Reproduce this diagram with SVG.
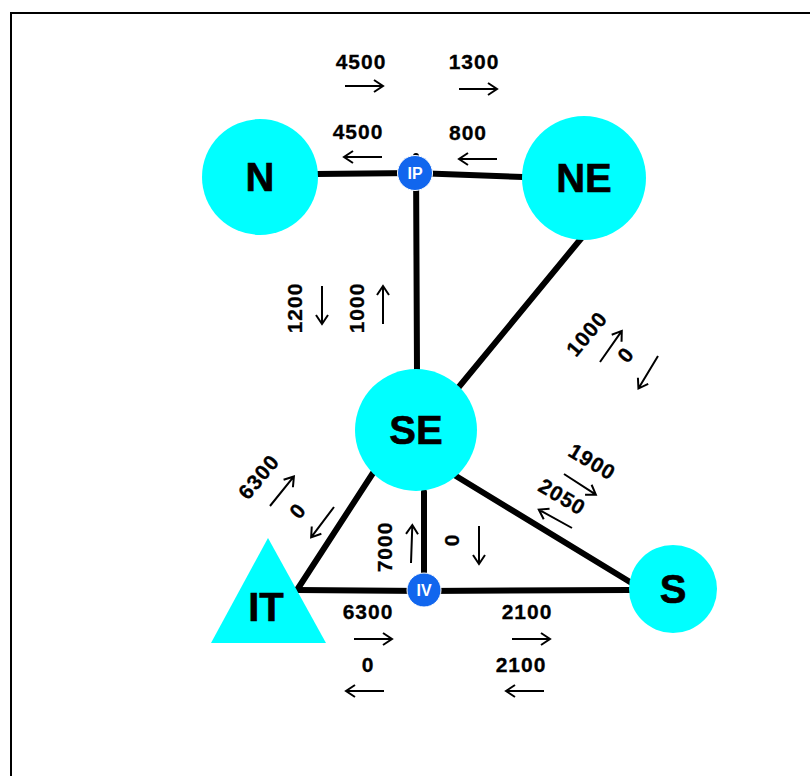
<svg xmlns="http://www.w3.org/2000/svg" xmlns:xlink="http://www.w3.org/1999/xlink" width="810" height="776" viewBox="0 0 810 776">
<style>
.node{fill:#00ffff}
.hub{fill:#1166ee;stroke:#ffffff;stroke-width:1}
.lbl{font-family:"Liberation Sans",Arial,sans-serif;font-weight:bold;font-size:40px;fill:#000;text-anchor:middle;stroke:#000;stroke-width:0.6}
.hlbl{font-family:"Liberation Sans",Arial,sans-serif;font-weight:bold;font-size:16px;fill:#fff;text-anchor:middle}
.num{font-family:"Liberation Sans",Arial,sans-serif;font-weight:bold;font-size:21px;letter-spacing:1px;fill:#000;text-anchor:middle;stroke:#000;stroke-width:0.3}
.edge{stroke:#000;stroke-width:6;stroke-linecap:round;fill:none}
.arr{stroke:#000;stroke-width:2;fill:none}
</style>
<defs>
<path id="ar" class="arr" d="M0,0 H38 M29,-6 L38,0 L29,6"/>
</defs>
<rect x="0" y="0" width="810" height="776" fill="#fff"/>
<path d="M11,780 V13 H815" fill="none" stroke="#000" stroke-width="2"/>
<g id="connectors">
<line class="edge" x1="316" y1="174" x2="415" y2="173"/>
<line class="edge" x1="415" y1="173" x2="523" y2="177"/>
<line class="edge" x1="416" y1="156" x2="417" y2="370"/>
<line class="edge" x1="584" y1="235" x2="458" y2="388"/>
<line class="edge" x1="373" y1="473" x2="297" y2="590"/>
<line class="edge" x1="297" y1="590" x2="424" y2="591"/>
<line class="edge" x1="424" y1="591" x2="630" y2="590"/>
<line class="edge" x1="451" y1="473" x2="630" y2="582"/>
<line class="edge" x1="424" y1="492" x2="424" y2="590"/>
</g>
<g id="N"><circle class="node" cx="260" cy="177" r="58"/><text class="lbl" x="260" y="191">N</text></g>
<g id="NE"><circle class="node" cx="584" cy="178" r="62"/><text class="lbl" x="584" y="192">NE</text></g>
<g id="SE"><circle class="node" cx="416" cy="430" r="61"/><text class="lbl" x="416" y="444">SE</text></g>
<g id="S"><circle class="node" cx="673" cy="589" r="44"/><text class="lbl" x="673" y="603">S</text></g>
<g id="IT"><polygon class="node" points="268,538 326,643 211,643"/><text class="lbl" x="266" y="621">IT</text></g>
<g id="IP"><circle class="hub" cx="415" cy="173" r="17.5"/><text class="hlbl" x="415" y="179">IP</text></g>
<g id="IV"><circle class="hub" cx="424" cy="590" r="17"/><text class="hlbl" x="424" y="596">IV</text></g>
<g id="labels">
<text class="num" x="361" y="69">4500</text>
<use xlink:href="#ar" transform="translate(345,86)"/>
<text class="num" x="474" y="69">1300</text>
<use xlink:href="#ar" transform="translate(459,89)"/>
<text class="num" x="358" y="139">4500</text>
<use xlink:href="#ar" transform="translate(382,157) rotate(180)"/>
<text class="num" x="468" y="140">800</text>
<use xlink:href="#ar" transform="translate(497,159) rotate(180)"/>

<text class="num" transform="translate(295,308) rotate(-90)" y="7">1200</text>
<use xlink:href="#ar" transform="translate(322,286) rotate(90)"/>
<text class="num" transform="translate(357,308) rotate(-90)" y="7">1000</text>
<use xlink:href="#ar" transform="translate(383,324) rotate(-90)"/>

<text class="num" transform="translate(587,334) rotate(-50)" y="7">1000</text>
<use xlink:href="#ar" transform="translate(600,362) rotate(-55)"/>
<text class="num" transform="translate(626,355) rotate(-50)" y="7">0</text>
<use xlink:href="#ar" transform="translate(658,356) rotate(121)"/>

<text class="num" transform="translate(259,477) rotate(-50)" y="7">6300</text>
<use xlink:href="#ar" transform="translate(270,506) rotate(-51)"/>
<text class="num" transform="translate(298,511) rotate(-50)" y="7">0</text>
<use xlink:href="#ar" transform="translate(334,507) rotate(127)"/>

<text class="num" transform="translate(592,462) rotate(31)" y="7">1900</text>
<use xlink:href="#ar" transform="translate(564,474) rotate(33)"/>
<text class="num" transform="translate(562,497) rotate(31)" y="7">2050</text>
<use xlink:href="#ar" transform="translate(572,528) rotate(209)"/>

<text class="num" transform="translate(385,547) rotate(-90)" y="7">7000</text>
<use xlink:href="#ar" transform="translate(411,563) rotate(-88)"/>
<text class="num" transform="translate(452,540) rotate(-90)" y="7">0</text>
<use xlink:href="#ar" transform="translate(479,526) rotate(90)"/>

<text class="num" x="368" y="619">6300</text>
<use xlink:href="#ar" transform="translate(354,639)"/>
<text class="num" x="368" y="672">0</text>
<use xlink:href="#ar" transform="translate(384,691) rotate(180)"/>
<text class="num" x="527" y="619">2100</text>
<use xlink:href="#ar" transform="translate(512,639)"/>
<text class="num" x="521" y="672">2100</text>
<use xlink:href="#ar" transform="translate(544,691) rotate(180)"/>
</g>
</svg>
